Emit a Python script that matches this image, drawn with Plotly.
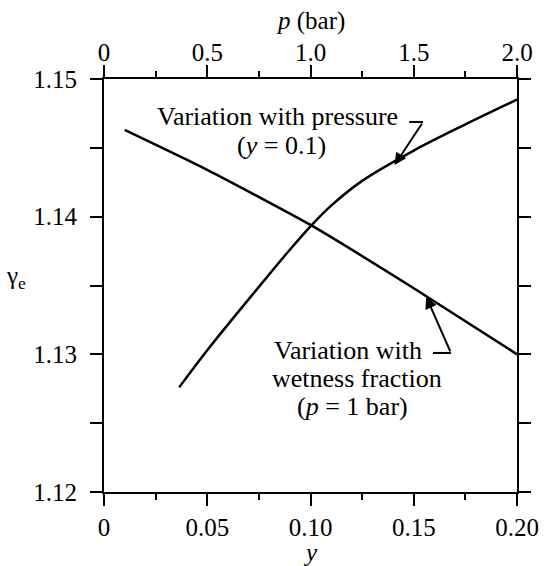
import plotly.graph_objects as go

# ---- data ----
# wetness fraction variation (p = 1 bar), bottom axis y
wet_y = [0.010, 0.050, 0.100, 0.150, 0.200]
wet_gamma = [1.1463, 1.1434, 1.1394, 1.1348, 1.1300]

# pressure variation (y = 0.1), top axis p (bar)
pres_p = [0.364, 0.5, 0.75, 0.9, 1.0, 1.1, 1.25, 1.5, 1.75, 2.0]
pres_gamma = [1.1276, 1.1303, 1.1349, 1.1376, 1.1393, 1.1408, 1.1426, 1.1448, 1.1467, 1.1485]

x_ticks = [0, 0.05, 0.10, 0.15, 0.20]
x_ticklabels = ["0", "0.05", "0.10", "0.15", "0.20"]
p_ticks = [0, 0.5, 1.0, 1.5, 2.0]
p_ticklabels = ["0", "0.5", "1.0", "1.5", "2.0"]
g_ticks = [1.12, 1.13, 1.14, 1.15]
g_ticklabels = ["1.12", "1.13", "1.14", "1.15"]

FONT = "'Liberation Serif', 'Times New Roman', Times, serif"
FS = 25
AFS = 26
LW = 2.5

fig = go.Figure()
fig.add_trace(go.Scatter(x=wet_y, y=wet_gamma, mode="lines", xaxis="x", yaxis="y",
                         line=dict(color="black", width=LW, shape="spline", smoothing=0.5),
                         showlegend=False, hoverinfo="skip"))
fig.add_trace(go.Scatter(x=pres_p, y=pres_gamma, mode="lines", xaxis="x2", yaxis="y",
                         line=dict(color="black", width=LW, shape="spline", smoothing=1.0),
                         showlegend=False, hoverinfo="skip"))

axis_common = dict(showgrid=False, zeroline=False, showline=True, linecolor="black", linewidth=2,
                   ticks="outside", ticklen=12, tickwidth=2, tickcolor="black",
                   tickfont=dict(family=FONT, size=FS, color="black"))

fig.update_layout(
    width=551, height=566,
    margin=dict(l=104, r=29, t=79, b=74),
    paper_bgcolor="white", plot_bgcolor="white",
    xaxis=dict(range=[0, 0.2], tickvals=x_ticks, ticktext=x_ticklabels, side="bottom",
               minor=dict(ticks="outside", ticklen=6, tickwidth=2, tickcolor="black", dtick=0.025, showgrid=False),
               **axis_common),
    xaxis2=dict(range=[0, 2.0], tickvals=p_ticks, ticktext=p_ticklabels, side="top", overlaying="x",
                ticklabelstandoff=-6,
                minor=dict(ticks="outside", ticklen=6, tickwidth=2, tickcolor="black", dtick=0.25, showgrid=False),
                **axis_common),
    yaxis=dict(range=[1.12, 1.15], tickvals=g_ticks, ticktext=g_ticklabels, mirror="allticks",
               ticklabelstandoff=8,
               minor=dict(ticks="outside", ticklen=6, tickwidth=2, tickcolor="black", dtick=0.005, showgrid=False),
               **axis_common),
    font=dict(family=FONT, size=FS, color="black"),
)

ann_font = dict(family=FONT, size=AFS, color="black")
tfont = dict(family=FONT, size=FS, color="black")
anns = []
# axis titles
anns.append(dict(text="<i>p</i> (bar)", xref="paper", yref="paper", x=0.5, y=1.0, yshift=58,
                 showarrow=False, font=tfont, xanchor="center", yanchor="middle"))
anns.append(dict(text="<i>y</i>", xref="paper", yref="paper", x=0.5, y=0.0, yshift=-60,
                 showarrow=False, font=tfont, xanchor="center", yanchor="middle"))
anns.append(dict(text="γ<sub>e</sub>", xref="paper", yref="paper", x=0.0, y=0.52, xshift=-88,
                 showarrow=False, font=tfont, xanchor="center", yanchor="middle"))

# pressure label
anns.append(dict(text="Variation with pressure", xref="x2", yref="y", x=0.842, y=1.14730,
                 showarrow=False, font=ann_font, xanchor="center", yanchor="middle"))
anns.append(dict(text="(<i>y</i> = 0.1)", xref="x2", yref="y", x=0.861, y=1.14515,
                 showarrow=False, font=ann_font, xanchor="center", yanchor="middle"))
anns.append(dict(text="", xref="x2", yref="y", x=1.407, y=1.14375, axref="x2", ayref="y",
                 ax=1.545, ay=1.14688, showarrow=True, arrowhead=2, arrowsize=1.2, arrowwidth=2,
                 arrowcolor="black", standoff=0, startstandoff=0))

# wetness label
anns.append(dict(text="Variation with", xref="x", yref="y", x=0.1182, y=1.13030,
                 showarrow=False, font=ann_font, xanchor="center", yanchor="middle"))
anns.append(dict(text="wetness fraction", xref="x", yref="y", x=0.1225, y=1.12825,
                 showarrow=False, font=ann_font, xanchor="center", yanchor="middle"))
anns.append(dict(text="(<i>p</i> = 1 bar)", xref="x", yref="y", x=0.1201, y=1.12620,
                 showarrow=False, font=ann_font, xanchor="center", yanchor="middle"))
anns.append(dict(text="", xref="x", yref="y", x=0.156, y=1.1342, axref="x", ayref="y",
                 ax=0.168, ay=1.1301, showarrow=True, arrowhead=2, arrowsize=1.2, arrowwidth=2,
                 arrowcolor="black", standoff=0, startstandoff=0))
fig.update_layout(annotations=anns)

# short horizontal leader dashes
fig.add_shape(type="line", xref="x2", yref="y", x0=1.478, x1=1.545, y0=1.14688, y1=1.14688,
              line=dict(color="black", width=2))
fig.add_shape(type="line", xref="x", yref="y", x0=0.1593, x1=0.168, y0=1.1301, y1=1.1301,
              line=dict(color="black", width=2))

fig.write_html("out.html")
